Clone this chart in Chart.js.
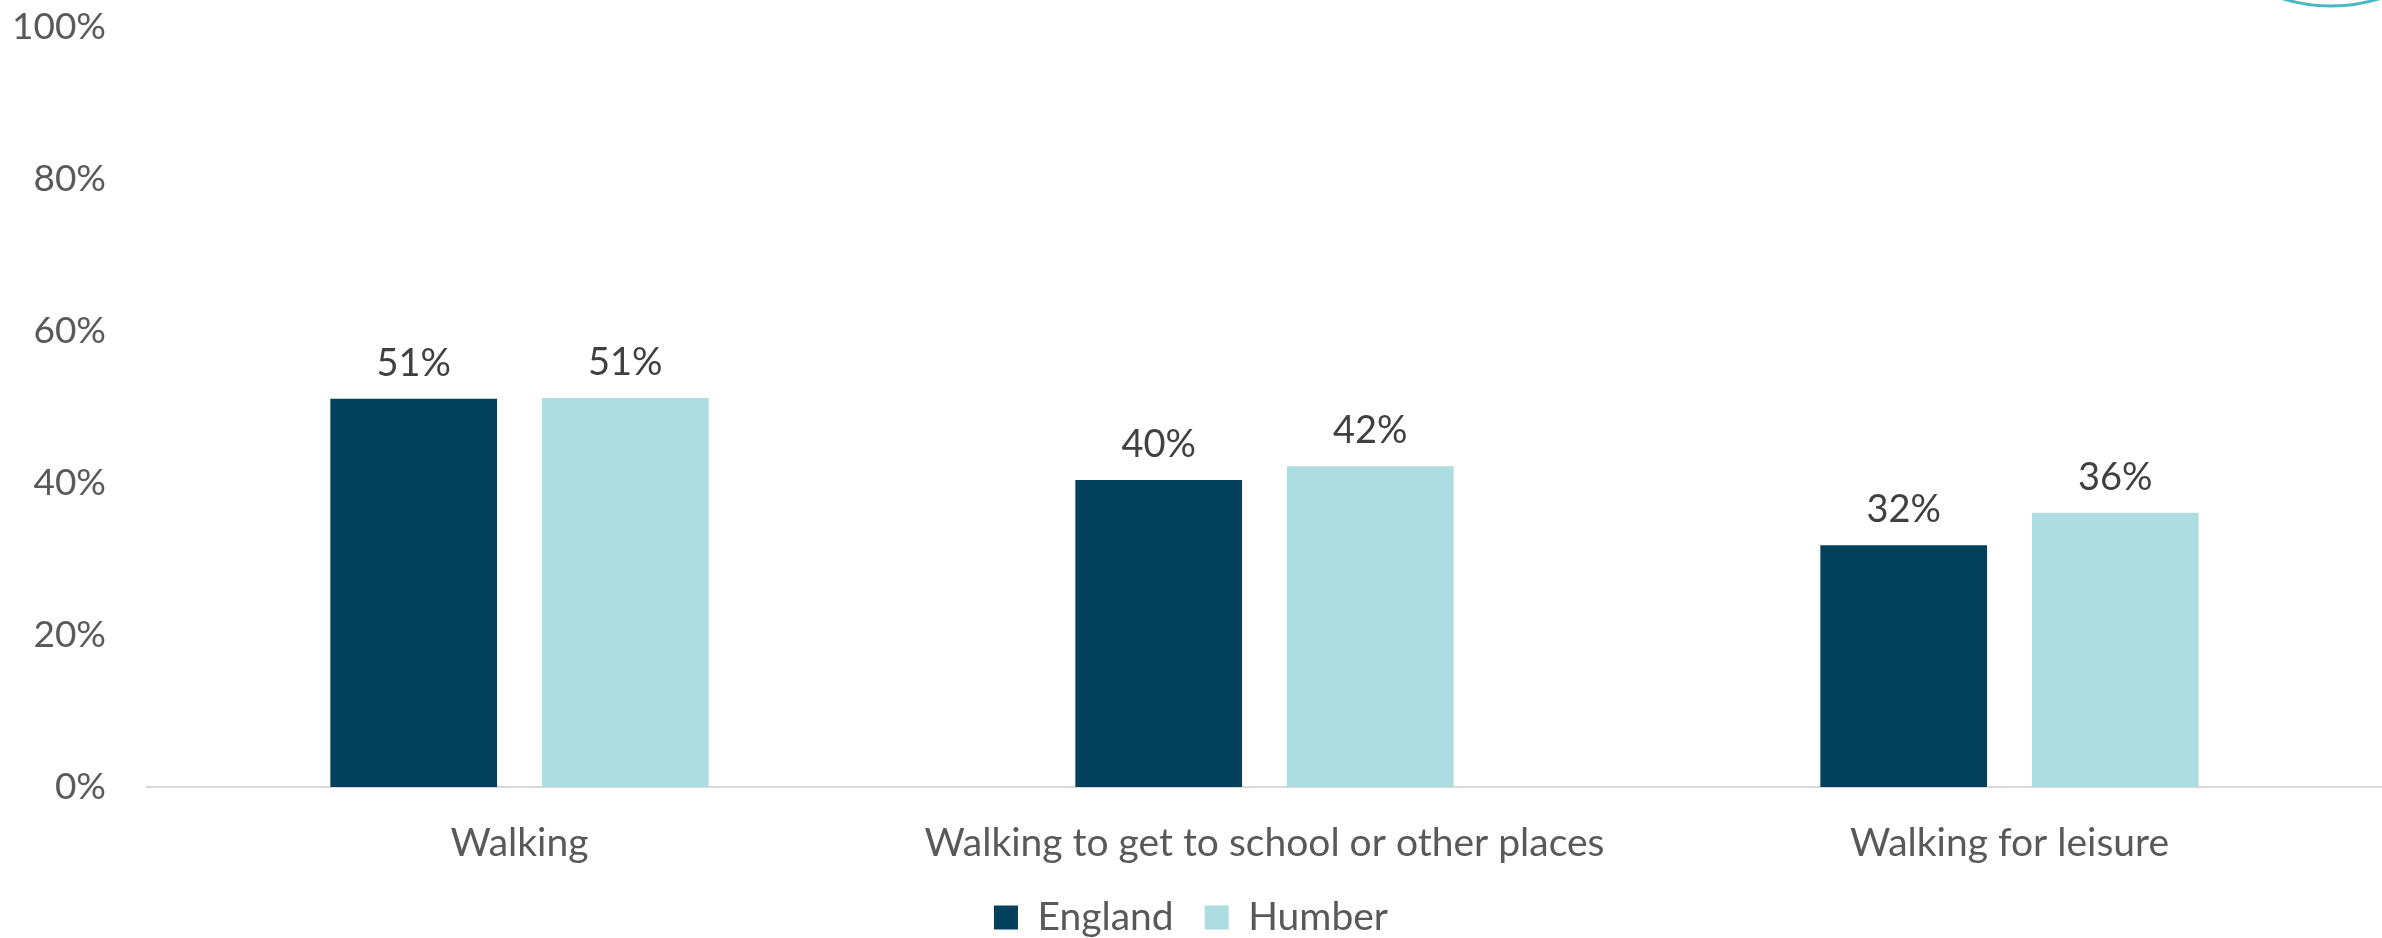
<!DOCTYPE html>
<html>
<head>
<meta charset="utf-8">
<script src="https://cdn.jsdelivr.net/npm/chart.js@4.4.0/dist/chart.umd.min.js"></script>
<style>
  html, body { margin: 0; padding: 0; background: #fff; }
  #wrap { width: 2382px; height: 938px; }
</style>
</head>
<body>
<div id="wrap"><canvas id="chart"></canvas></div>
<script>
// Data
const categories = ['Walking', 'Walking to get to school or other places', 'Walking for leisure'];
const englandValues = [51.1, 40.4, 31.8];
const humberValues = [51.2, 42.2, 36.1];
const yTicks = [0, 20, 40, 60, 80, 100];

const FONT = 'Lato, "Open Sans", sans-serif';

// value labels above each bar
const valueLabels = {
    id: 'valueLabels',
    afterDatasetsDraw(chart){
        const ctx = chart.ctx;
        ctx.save();
        ctx.font = '38px ' + FONT;
        ctx.fillStyle = '#404040';
        ctx.textAlign = 'center';
        ctx.textBaseline = 'alphabetic';
        chart.data.datasets.forEach((ds,i)=>{
            chart.getDatasetMeta(i).data.forEach((bar,j)=>{
                ctx.fillText(Math.round(ds.data[j]) + '%', bar.x, bar.y - 23);
            });
        });
        ctx.restore();
    }
};

// bit of the logo ring showing in the top right corner
const cornerRing = {
    id: 'cornerRing',
    afterDraw(chart){
        const ctx = chart.ctx;
        ctx.save();
        ctx.strokeStyle = '#4bb5c1';
        ctx.lineWidth = 3;
        ctx.beginPath();
        ctx.arc(2331, -158, 164, 0, Math.PI);
        ctx.stroke();
        ctx.restore();
    }
};

new Chart(document.getElementById('chart'), {
    type: 'bar',
    data: {
        labels: categories,
        datasets: [
            {label: 'England', data: englandValues, backgroundColor: '#02405c'},
            {label: 'Humber', data: humberValues, backgroundColor: '#addde1'}
        ]
    },
    options: {
        responsive: true,
        maintainAspectRatio: false,
        animation: false,
        categoryPercentage: 0.568,
        barPercentage: 0.788,
        layout: {padding: {top: 0, right: 0, left: 0, bottom: -9}},
        plugins: {
            tooltip: {enabled: false},
            legend: {
                position: 'bottom',
                labels: {
                    boxWidth: 24,
                    boxHeight: 24,
                    padding: 31,
                    color: '#595959',
                    font: {family: FONT, size: 39}
                }
            }
        },
        scales: {
            x: {
                afterFit(scale){ scale.height = 80; },
                grid: {display: false, drawTicks: false},
                border: {color: '#d9d9d9', width: 2},
                ticks: {color: '#595959', padding: 33, font: {family: FONT, size: 39}}
            },
            y: {
                min: 0,
                max: 100,
                afterFit(scale){
                    scale.width = 147;
                    scale.paddingTop = 27;
                    scale.paddingBottom = 0;
                },
                afterBuildTicks(scale){ scale.ticks = yTicks.map(v=>({value: v})); },
                grid: {display: false, drawTicks: false},
                border: {display: false},
                ticks: {
                    color: '#595959',
                    padding: 41,
                    font: {family: FONT, size: 37},
                    callback: v => v + '%'
                }
            }
        }
    },
    plugins: [valueLabels, cornerRing]
});
</script>
</body>
</html>
